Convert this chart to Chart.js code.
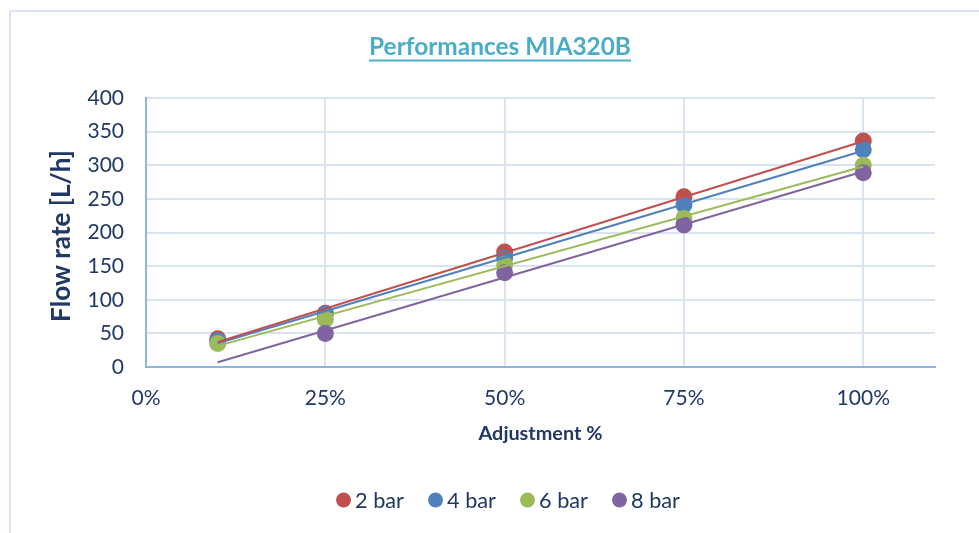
<!DOCTYPE html>
<html>
<head>
<meta charset="utf-8">
<script src="https://cdn.jsdelivr.net/npm/chart.js@4"></script>
<style>
  html, body { margin: 0; padding: 0; background: #ffffff; }
  #wrap { width: 979px; height: 533px; }
</style>
</head>
<body>
<div id="wrap"><canvas id="c" width="979" height="533"></canvas></div>
<script>
// ---- data ----
const adjustment = [0.10, 0.25, 0.50, 0.75, 1.00];
const seriesNames = ['2 bar', '4 bar', '6 bar', '8 bar'];
const bar2 = [42, 80, 171, 253, 336];
const bar4 = [39, 79, 162, 241, 323];
const bar6 = [35, 71, 152, 221, 300];
const bar8 = [null, 50, 140, 211, 289];
const xTicks = [0, 0.25, 0.5, 0.75, 1.0];
const yTicks = [0, 50, 100, 150, 200, 250, 300, 350, 400];
const chartTitle = 'Performances MIA320B';
const xTitle = 'Adjustment %';
const yTitle = 'Flow rate [L/h]';

const colors = ['#c0504d', '#4f81bd', '#9bbb59', '#8064a2'];
const allSeries = [bar2, bar4, bar6, bar8];
const TEXT = '#1f3864';
const FONT = 'Lato';

function toPoints(vals) {
  const pts = [];
  vals.forEach((v, i) => { if (v !== null) pts.push({x: adjustment[i], y: v}); });
  return pts;
}
// Linear trendline (least squares), drawn over the x range of the categories
function trend(vals) {
  const pts = toPoints(vals);
  const n = pts.length;
  const mx = pts.reduce((s, p) => s + p.x, 0) / n;
  const my = pts.reduce((s, p) => s + p.y, 0) / n;
  let sxy = 0, sxx = 0;
  pts.forEach(p => { sxy += (p.x - mx) * (p.y - my); sxx += (p.x - mx) * (p.x - mx); });
  const b = sxy / sxx, a = my - b * mx;
  const x0 = Math.min(...adjustment), x1 = Math.max(...adjustment);
  return [{x: x0, y: a + b * x0}, {x: x1, y: a + b * x1}];
}

const datasets = [];
allSeries.forEach((vals, i) => {
  datasets.push({
    type: 'scatter', label: seriesNames[i], data: toPoints(vals),
    backgroundColor: colors[i], borderColor: colors[i], borderWidth: 0,
    pointRadius: 8.5, pointHoverRadius: 8.5, order: 10 - i
  });
});
allSeries.forEach((vals, i) => {
  datasets.push({
    type: 'line', label: seriesNames[i] + ' trend', data: trend(vals),
    borderColor: colors[i], borderWidth: 2, pointRadius: 0, fill: false, order: 1
  });
});

function fitSize(ctx, text, weight, target) {
  ctx.font = weight + ' 100px ' + FONT;
  return 100 * target / ctx.measureText(text).width;
}

const decor = {
  id: 'decor',
  beforeDraw(chart) {
    const ctx = chart.ctx;
    ctx.save();
    ctx.fillStyle = '#ffffff';
    ctx.fillRect(0, 0, chart.width, chart.height);
    ctx.fillStyle = '#dae3f1';
    ctx.fillRect(9, 10, 2, chart.height - 10);
    ctx.fillRect(9, 10, chart.width - 9, 2);
    ctx.restore();
  },
  afterDraw(chart) {
    const ctx = chart.ctx;
    const area = chart.chartArea;
    ctx.save();
    // chart title
    let fs = fitSize(ctx, chartTitle, 'bold', 262);
    ctx.font = 'bold ' + fs + 'px ' + FONT;
    ctx.fillStyle = '#4bacc6';
    ctx.textAlign = 'center';
    ctx.textBaseline = 'alphabetic';
    ctx.fillText(chartTitle, 500, 55);
    ctx.fillRect(369, 59.5, 262, 2);
    // y title
    fs = fitSize(ctx, yTitle, 'bold', 172);
    ctx.font = 'bold ' + fs + 'px ' + FONT;
    ctx.fillStyle = TEXT;
    ctx.textBaseline = 'middle';
    ctx.translate(62, 236);
    ctx.rotate(-Math.PI / 2);
    ctx.fillText(yTitle, 0, 0);
    ctx.setTransform(1, 0, 0, 1, 0, 0);
    // x title
    fs = fitSize(ctx, xTitle, 'bold', 124);
    ctx.font = 'bold ' + fs + 'px ' + FONT;
    ctx.fillText(xTitle, (area.left + area.right) / 2, 434);
    // legend
    fs = fitSize(ctx, seriesNames[0], 'normal', 49);
    ctx.font = 'normal ' + fs + 'px ' + FONT;
    ctx.textAlign = 'left';
    const r = 7.5, gapText = 4, gapItem = 24;
    const widths = seriesNames.map(t => ctx.measureText(t).width);
    let total = 0;
    widths.forEach((w, i) => { total += 2 * r + gapText + w + (i < widths.length - 1 ? gapItem : 0); });
    let x = 508 - total / 2;
    const y = 500;
    seriesNames.forEach((t, i) => {
      ctx.fillStyle = colors[i];
      ctx.beginPath();
      ctx.arc(x + r, y, r, 0, Math.PI * 2);
      ctx.fill();
      ctx.fillStyle = TEXT;
      ctx.fillText(t, x + 2 * r + gapText, y + 1);
      x += 2 * r + gapText + widths[i] + gapItem;
    });
    ctx.restore();
  }
};

new Chart(document.getElementById('c'), {
  data: { datasets },
  options: {
    responsive: false,
    animation: false,
    devicePixelRatio: 1,
    layout: { padding: { top: 98, right: 44, left: 0, bottom: 0 } },
    plugins: { legend: { display: false }, title: { display: false }, tooltip: { enabled: false } },
    scales: {
      x: {
        type: 'linear', min: 0, max: 1.1,
        afterFit: s => { s.height = 533 - 367; },
        afterBuildTicks: s => { s.ticks = xTicks.map(v => ({ value: v })); },
        grid: { color: '#d9e4f2', lineWidth: 2, drawTicks: false },
        border: { color: '#8eb4e3', width: 2 },
        ticks: {
          padding: 19, color: TEXT, font: { family: FONT, size: 21 },
          callback: v => Math.round(v * 100) + '%'
        }
      },
      y: {
        type: 'linear', min: 0, max: 400,
        afterFit: s => { s.width = 146; },
        afterBuildTicks: s => { s.ticks = yTicks.map(v => ({ value: v })); },
        grid: { color: '#d9e4f2', lineWidth: 2, drawTicks: false },
        border: { color: '#8eb4e3', width: 2 },
        ticks: { padding: 22, color: TEXT, font: { family: FONT, size: 21 } }
      }
    }
  },
  plugins: [decor]
});
</script>
</body>
</html>
